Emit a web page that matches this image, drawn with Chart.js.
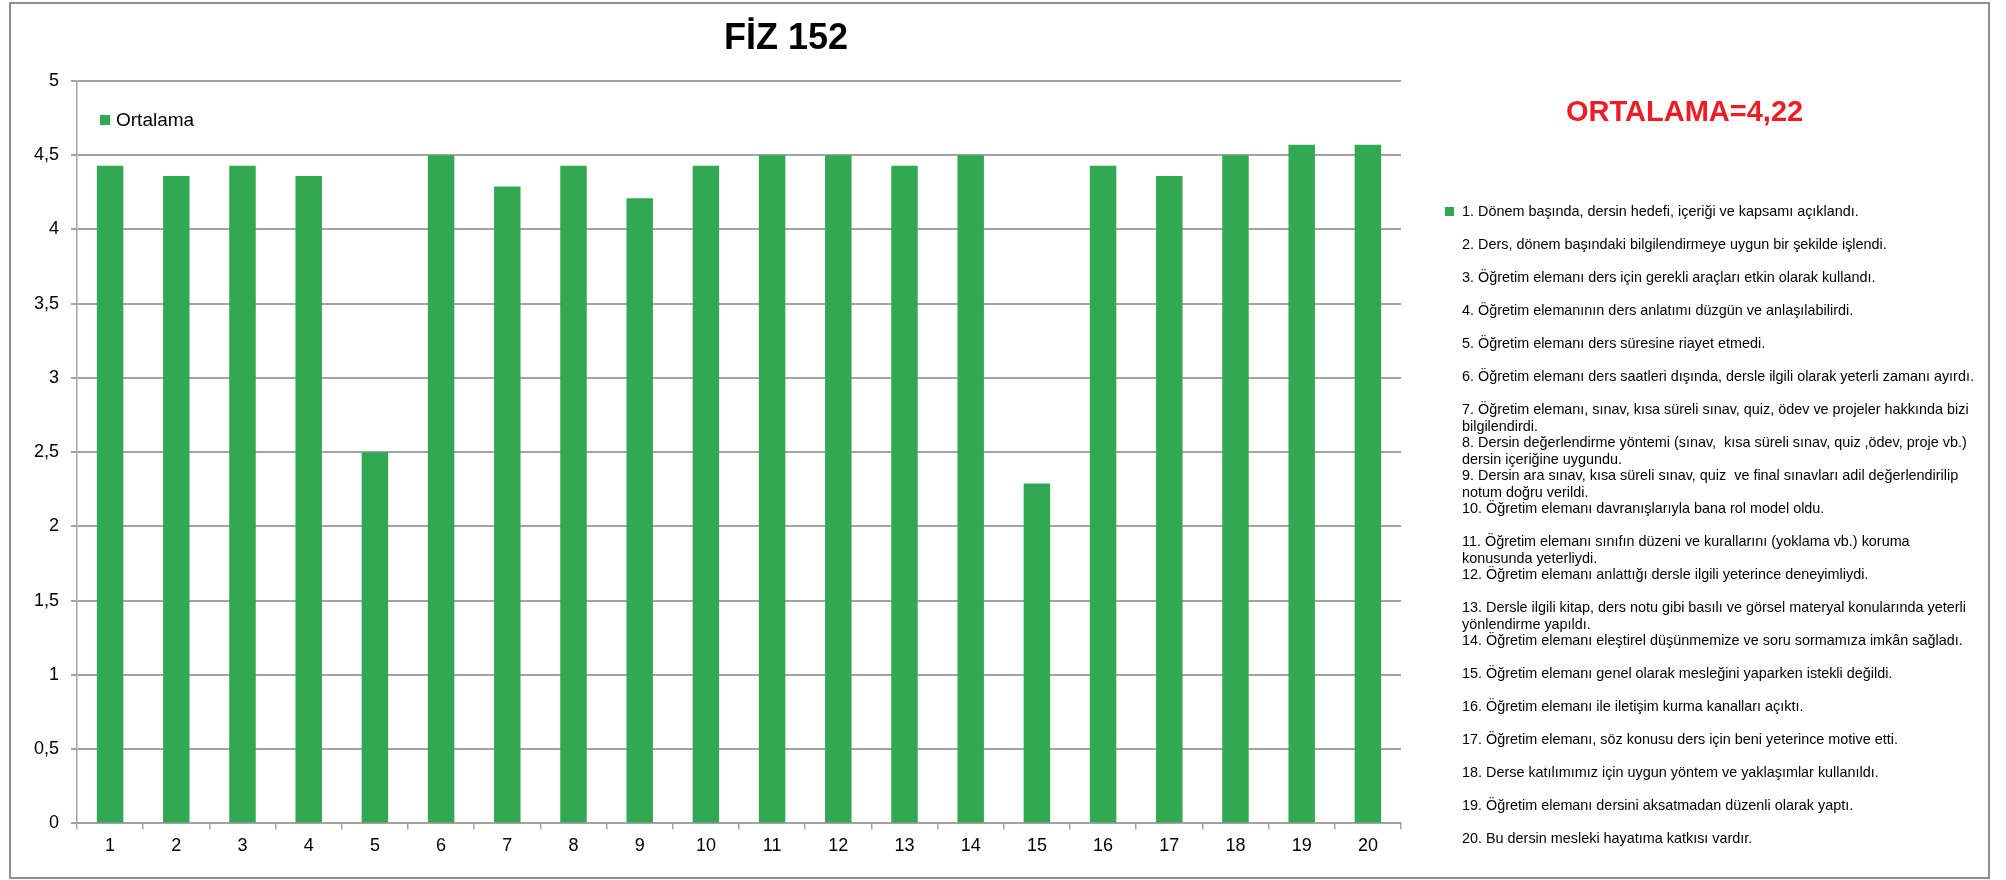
<!DOCTYPE html>
<html lang="tr">
<head>
<meta charset="utf-8">
<title>FİZ 152</title>
<script src="https://cdn.jsdelivr.net/npm/chart.js@4/dist/chart.umd.min.js"></script>
<style>
  html, body { margin: 0; padding: 0; background: #fff; }
  #wrap { position: relative; width: 2006px; height: 880px; overflow: hidden; font-family: "Liberation Sans", Arial, sans-serif; }
  #chart { position: absolute; left: 0; top: 0; }
  #frame { position: absolute; left: 9px; top: 2px; width: 1981px; height: 877px; box-sizing: border-box; border: 2px solid #8f8f8f; pointer-events: none; }
  #title { position: absolute; left: 586px; width: 400px; top: 19px; text-align: center; font-size: 36px; font-weight: bold; line-height: 1; color: #000; }
  #mean { position: absolute; left: 1566px; top: 97px; font-size: 29px; font-weight: bold; line-height: 1; color: #ee1c25; white-space: nowrap; }
  .q { position: absolute; left: 1462px; font-size: 14.4px; line-height: 16.5px; color: #000; white-space: pre; }
  .qbox { position: absolute; left: 1445px; width: 9px; height: 9px; }
</style>
</head>
<body>
<div id="wrap">
  <canvas id="chart" width="1576" height="880"></canvas>
  <div id="title"></div>
  <div id="mean"></div>
  <div id="list"></div>
  <div id="frame"></div>
</div>
<script>
// soru numaraları (x ekseni)
const questionNo = ['1', '2', '3', '4', '5', '6', '7', '8', '9', '10',
  '11', '12', '13', '14', '15', '16', '17', '18', '19', '20'];

// her sorunun ortalaması
const ortalama = [4.43, 4.36, 4.43, 4.36, 2.5, 4.5, 4.29, 4.43, 4.21, 4.43,
  4.5, 4.5, 4.43, 4.5, 2.29, 4.43, 4.36, 4.5, 4.57, 4.57];

const yTicks = [0, 0.5, 1, 1.5, 2, 2.5, 3, 3.5, 4, 4.5, 5];

const chartTitle = 'FİZ 152';
const genelOrtalama = '4,22';

const questions = [
  '1. Dönem başında, dersin hedefi, içeriği ve kapsamı açıklandı.',
  '2. Ders, dönem başındaki bilgilendirmeye uygun bir şekilde işlendi.',
  '3. Öğretim elemanı ders için gerekli araçları etkin olarak kullandı.',
  '4. Öğretim elemanının ders anlatımı düzgün ve anlaşılabilirdi.',
  '5. Öğretim elemanı ders süresine riayet etmedi.',
  '6. Öğretim elemanı ders saatleri dışında, dersle ilgili olarak yeterli zamanı ayırdı.',
  '7. Öğretim elemanı, sınav, kısa süreli sınav, quiz, ödev ve projeler hakkında bizi\nbilgilendirdi.',
  '8. Dersin değerlendirme yöntemi (sınav,  kısa süreli sınav, quiz ,ödev, proje vb.)\ndersin içeriğine uygundu.',
  '9. Dersin ara sınav, kısa süreli sınav, quiz  ve final sınavları adil değerlendirilip\nnotum doğru verildi.',
  '10. Öğretim elemanı davranışlarıyla bana rol model oldu.',
  '11. Öğretim elemanı sınıfın düzeni ve kurallarını (yoklama vb.) koruma\nkonusunda yeterliydi.',
  '12. Öğretim elemanı anlattığı dersle ilgili yeterince deneyimliydi.',
  '13. Dersle ilgili kitap, ders notu gibi basılı ve görsel materyal konularında yeterli\nyönlendirme yapıldı.',
  '14. Öğretim elemanı eleştirel düşünmemize ve soru sormamıza imkân sağladı.',
  '15. Öğretim elemanı genel olarak mesleğini yaparken istekli değildi.',
  '16. Öğretim elemanı ile iletişim kurma kanalları açıktı.',
  '17. Öğretim elemanı, söz konusu ders için beni yeterince motive etti.',
  '18. Derse katılımımız için uygun yöntem ve yaklaşımlar kullanıldı.',
  '19. Öğretim elemanı dersini aksatmadan düzenli olarak yaptı.',
  '20. Bu dersin mesleki hayatıma katkısı vardır.'
];

const GREEN = '#33a852';
const GRID = '#a3a3a3';
const FONT = '"Liberation Sans", Arial, sans-serif';

document.getElementById('title').textContent = chartTitle;
document.getElementById('mean').textContent = 'ORTALAMA=' + genelOrtalama;

// sağdaki açıklama listesi
const list = document.getElementById('list');
questions.forEach((q, i) => {
  const cy = 211 + i * 33;
  const d = document.createElement('div');
  d.className = 'q';
  d.style.top = (cy - 8) + 'px';
  d.textContent = q;
  list.appendChild(d);
  if (i === 0) {
    const b = document.createElement('div');
    b.className = 'qbox';
    b.style.top = (cy - 4) + 'px';
    b.style.background = GREEN;
    list.appendChild(b);
  }
});

// grafik içindeki "Ortalama" göstergesi
const insideLegend = {
  id: 'insideLegend',
  afterDraw(chart) {
    const ctx = chart.ctx;
    const area = chart.chartArea;
    const ds = chart.data.datasets[0];
    const x = area.left + 23;
    const y = area.top + 39;
    ctx.save();
    ctx.fillStyle = ds.backgroundColor;
    ctx.fillRect(x, y - 5, 10, 10);
    ctx.fillStyle = '#000';
    ctx.font = '19px ' + FONT;
    ctx.textBaseline = 'middle';
    ctx.fillText(ds.label, x + 16, y + 1);
    ctx.restore();
  }
};

new Chart(document.getElementById('chart'), {
  type: 'bar',
  data: {
    labels: questionNo,
    datasets: [{
      label: 'Ortalama',
      data: ortalama,
      backgroundColor: GREEN,
      borderWidth: 0,
      categoryPercentage: 1,
      barPercentage: 0.4
    }]
  },
  options: {
    responsive: false,
    animation: false,
    layout: { padding: { left: 0, right: 175, top: 81, bottom: 17 } },
    plugins: {
      legend: { display: false },
      tooltip: { enabled: false },
      title: { display: false }
    },
    scales: {
      x: {
        grid: { display: true, drawOnChartArea: false, drawTicks: true, tickLength: 6, color: GRID, lineWidth: 1.5 },
        border: { display: true, color: GRID, width: 2 },
        ticks: { color: '#000', font: { family: FONT, size: 18 }, padding: 6, maxRotation: 0, autoSkip: false }
      },
      y: {
        min: 0,
        max: 5,
        afterFit(scale) { scale.width = 77; },
        afterBuildTicks(scale) { scale.ticks = yTicks.map(v => ({ value: v })); },
        grid: { color: GRID, lineWidth: 2, tickLength: 6 },
        border: { display: true, color: GRID, width: 1.5 },
        ticks: {
          color: '#000',
          font: { family: FONT, size: 18 },
          padding: 12,
          callback: v => String(v).replace('.', ',')
        }
      }
    }
  },
  plugins: [insideLegend]
});
</script>
</body>
</html>
